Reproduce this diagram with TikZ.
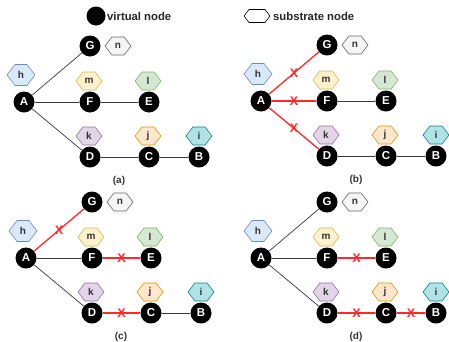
\documentclass[tikz,border=0pt]{standalone}
\usepackage{fontspec}
\setmainfont{Liberation Sans}
\usetikzlibrary{shapes.symbols}
\definecolor{txtgray}{HTML}{333333}
\definecolor{lgray}{HTML}{3A3A3A}
\definecolor{xred}{HTML}{FF2A2A}
\definecolor{bluef}{HTML}{DAE8FC}\definecolor{blued}{HTML}{6C8EBF}
\definecolor{yelf}{HTML}{FFF2CC}\definecolor{yeld}{HTML}{D6B656}
\definecolor{grnf}{HTML}{D5E8D4}\definecolor{grnd}{HTML}{82B366}
\definecolor{purf}{HTML}{E1D5E7}\definecolor{purd}{HTML}{9673A6}
\definecolor{orgf}{HTML}{FFE6CC}\definecolor{orgd}{HTML}{D79B00}
\definecolor{tealf}{HTML}{B0E3E6}\definecolor{teald}{HTML}{0E8088}
\definecolor{grayf}{HTML}{F5F5F5}\definecolor{grayd}{HTML}{666666}
\tikzset{
  vnode/.style={circle,fill=black,minimum size=21pt,inner sep=0pt,text=white,
    font=\bfseries\fontsize{11.5}{12}\selectfont},
  snode/.style 2 args={signal,signal to=east and west,signal pointer angle=105,
    fill=#1,draw=#2,line width=0.6pt,minimum width=26pt,minimum height=18pt,inner sep=0pt,
    text=txtgray,font=\bfseries\fontsize{10}{11}\selectfont},
  eline/.style={draw=lgray,line width=0.7pt},
  rline/.style={draw=xred,line width=1.3pt},
  xmark/.style={text=xred,inner sep=0pt,font=\bfseries\fontsize{12.5}{12}\selectfont},
  plabel/.style={text=txtgray,font=\bfseries\fontsize{10}{11}\selectfont},
  legtext/.style={anchor=west,inner sep=0pt,text=black!85,font=\bfseries\fontsize{11.3}{12}\selectfont},
}
\newcommand\drawpanel[4]{%
\begin{scope}[shift={(#2,#3)}]
  \node[snode={bluef}{blued},minimum width=28pt,minimum height=21pt] (#1h) at (21,75) {h};
  \node[snode={grayf}{grayd}] (#1n) at (118,46) {n};
  \node[snode={yelf}{yeld}] (#1m) at (89,81) {m};
  \node[snode={grnf}{grnd}] (#1l) at (148,81) {l};
  \node[snode={purf}{purd}] (#1k) at (89,136) {k};
  \node[snode={orgf}{orgd}] (#1j) at (148,136) {j};
  \node[snode={tealf}{teald}] (#1i) at (199,136) {i};
  \node[vnode] (#1A) at (24,102) {A};
  \node[vnode] (#1G) at (90,46) {G};
  \node[vnode] (#1F) at (90,102) {F};
  \node[vnode] (#1E) at (149,102) {E};
  \node[vnode] (#1D) at (90,157) {D};
  \node[vnode] (#1C) at (149,157) {C};
  \node[vnode] (#1B) at (199,157) {B};
  \node[plabel] (#1lab) at (119,181) {(#4)};
\end{scope}}
\begin{document}
\begin{tikzpicture}[x=1pt,y=-1pt]
\useasboundingbox[fill=white] (0,0) rectangle (449,341);
% legend
\node[vnode,minimum size=19pt] (legv) at (96,16) {};
\node[legtext] (legvt) at (107,16) {virtual node};
\node[snode={white}{black},minimum width=26pt,minimum height=13pt] (legs) at (257,16) {};
\node[legtext] (legst) at (273,16) {substrate node};
% panels
\drawpanel{a}{0}{0}{a}
\drawpanel{b}{237}{-1}{b}
\drawpanel{c}{2}{156}{c}
\drawpanel{d}{237}{156}{d}
% (a)
\draw[eline] (aA) -- (aG);
\draw[eline] (aA) -- (aF);
\draw[eline] (aA) -- (aD);
\draw[eline] (aF) -- (aE);
\draw[eline] (aD) -- (aC);
\draw[eline] (aC) -- (aB);
% (b)
\draw[rline] (bA) -- node[xmark] (bx1) {X} (bG);
\draw[rline] (bA) -- node[xmark] (bx2) {X} (bF);
\draw[rline] (bA) -- node[xmark] (bx3) {X} (bD);
\draw[eline] (bF) -- (bE);
\draw[eline] (bD) -- (bC);
\draw[eline] (bC) -- (bB);
% (c)
\draw[rline] (cA) -- node[xmark] (cx1) {X} (cG);
\draw[eline] (cA) -- (cF);
\draw[eline] (cA) -- (cD);
\draw[rline] (cF) -- node[xmark] (cx2) {X} (cE);
\draw[rline] (cD) -- node[xmark] (cx3) {X} (cC);
\draw[eline] (cC) -- (cB);
% (d)
\draw[eline] (dA) -- (dG);
\draw[eline] (dA) -- (dF);
\draw[eline] (dA) -- (dD);
\draw[rline] (dF) -- node[xmark] (dx1) {X} (dE);
\draw[rline] (dD) -- node[xmark] (dx2) {X} (dC);
\draw[rline] (dC) -- node[xmark] (dx3) {X} (dB);
\end{tikzpicture}
\end{document}
